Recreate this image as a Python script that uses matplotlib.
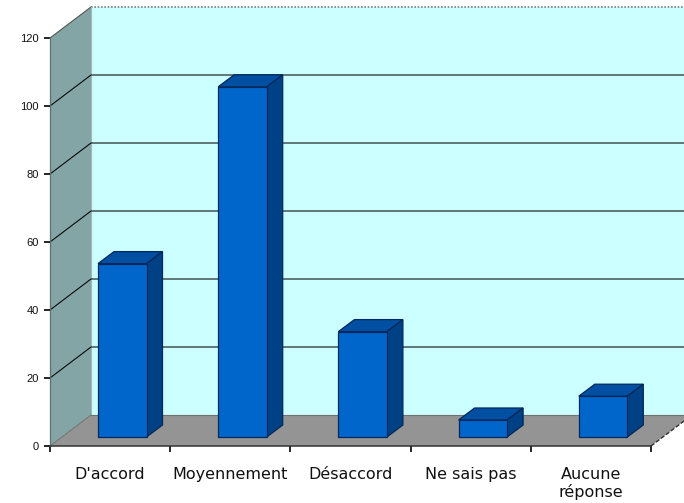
import matplotlib
matplotlib.use('Agg')
import matplotlib.pyplot as plt
from matplotlib.patches import Polygon

categories = ["D'accord", "Moyennement", "Désaccord", "Ne sais pas", "Aucune\nréponse"]
values = [51, 103, 31, 5, 12]
yticks = [0, 20, 40, 60, 80, 100, 120]

W, H = 684, 503
X0, Y0 = 50, 446  # position du zero en pixels
PX_CAT = 120.2    # pixels par categorie
PX_VAL = 3.4      # pixels par unite

# profondeur du fond du graphique
DX = 41 / PX_CAT
DY = 31 / PX_VAL
# position et taille des barres
BAR_X = 48 / PX_CAT
BAR_W = 48.5 / PX_CAT
BAR_DX = 16 / PX_CAT
BAR_DY = 12 / PX_VAL
BAR_BASE_DY = 9 / PX_VAL
NCAT = len(categories)
YMAX = yticks[-1]

fig = plt.figure(figsize=(W / 100, H / 100), dpi=100, facecolor='white')
ax = fig.add_axes([0, 0, 1, 1])
ax.set_xlim(-X0 / PX_CAT, (W - X0) / PX_CAT)
ax.set_ylim(-(H - Y0) / PX_VAL, Y0 / PX_VAL)
ax.patch.set_visible(False)


def poly(pts, face, edge='none', lw=0.0, z=1):
    ax.add_patch(Polygon(pts, closed=True, facecolor=face, edgecolor=edge, linewidth=lw, zorder=z))


# murs et sol
poly([(DX, DY), (NCAT + DX, DY), (NCAT + DX, YMAX + DY), (DX, YMAX + DY)], '#CCFFFF')
poly([(0, 0), (DX, DY), (DX, YMAX + DY), (0, YMAX)], '#84A5A5')
poly([(0, 0), (NCAT, 0), (NCAT + DX, DY), (DX, DY)], '#949494')

ax.plot([DX, NCAT + DX], [YMAX + DY, YMAX + DY], color='#808080', lw=1.2, ls=(0, (1, 1)), zorder=2)
ax.plot([0, DX], [YMAX, YMAX + DY], color='#555555', lw=0.8, zorder=2)
ax.plot([DX, DX], [DY, YMAX + DY], color='#A0B8B8', lw=0.8, zorder=2)
ax.plot([0, DX], [0, DY], color='#707070', lw=0.7, zorder=2)
ax.plot([DX, NCAT + DX], [DY, DY], color='#707070', lw=0.8, zorder=2)
ax.plot([NCAT, NCAT + DX], [0, DY], color='#333333', lw=1.0, ls=(0, (3, 1.5)), zorder=2)

# grille
for t in yticks[1:-1]:
    ax.plot([0, DX, NCAT + DX], [t, t + DY, t + DY], color='black', lw=0.75, zorder=2)

# barres
for i, v in enumerate(values):
    x1 = i + BAR_X
    x2 = x1 + BAR_W
    y1 = BAR_BASE_DY
    y2 = v + BAR_BASE_DY
    poly([(x1, y2), (x2, y2), (x2 + BAR_DX, y2 + BAR_DY), (x1 + BAR_DX, y2 + BAR_DY)],
         '#004FA3', '#00285A', 0.9, 3)
    poly([(x2, y1), (x2 + BAR_DX, y1 + BAR_DY), (x2 + BAR_DX, y2 + BAR_DY), (x2, y2)],
         '#004085', '#00285A', 0.9, 3)
    poly([(x1, y1), (x2, y1), (x2, y2), (x1, y2)], '#0066CC', '#00285A', 0.9, 4)

# axes
for s in ['top', 'right']:
    ax.spines[s].set_visible(False)
ax.spines['left'].set_position(('data', 0))
ax.spines['bottom'].set_position(('data', 0))
ax.spines['left'].set_bounds(0, YMAX)
ax.spines['bottom'].set_bounds(0, NCAT)
ax.spines['left'].set_color('#607070')
ax.spines['left'].set_linewidth(0.9)
ax.spines['bottom'].set_color('#333333')
ax.spines['bottom'].set_linewidth(1.1)
ax.spines['left'].set_zorder(5)
ax.spines['bottom'].set_zorder(5)

ax.set_yticks(yticks)
ax.tick_params(axis='y', length=4, width=1.2, color='black', pad=4, labelsize=8, labelcolor='#111111')
for lab in ax.get_yticklabels():
    lab.set_family('Liberation Sans')

ax.set_xticks(range(NCAT + 1))
ax.set_xticklabels([])
ax.tick_params(axis='x', which='major', length=4, width=1.2, color='black')
ax.set_xticks([i + 0.5 for i in range(NCAT)], minor=True)
ax.set_xticklabels(categories, minor=True, family='DejaVu Sans', fontsize=11.5, color='#111111', linespacing=1.2)
ax.tick_params(axis='x', which='minor', length=0, pad=15)

fig.savefig('out.png', dpi=100)
